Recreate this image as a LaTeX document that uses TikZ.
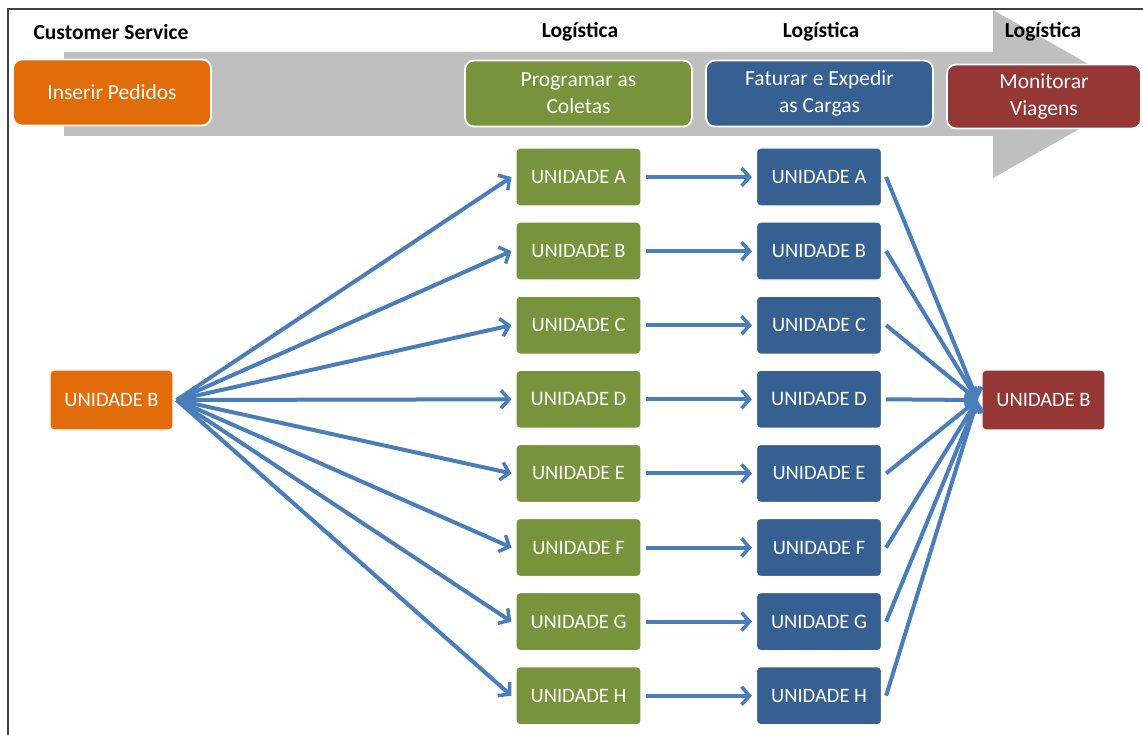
\documentclass[tikz,border=0pt]{standalone}
\usepackage{fontspec}
\setmainfont{Carlito}
\usetikzlibrary{arrows.meta}
\definecolor{csorange}{HTML}{E36C0A}
\definecolor{lgreen}{HTML}{77933C}
\definecolor{lblue}{HTML}{376092}
\definecolor{lred}{HTML}{953735}
\definecolor{flow}{HTML}{4A7EBB}
\definecolor{band}{HTML}{BFBFBF}
\definecolor{frame}{HTML}{404040}
\tikzset{
  stagebox/.style={draw=white, line width=1.8pt, rounded corners=9pt, text=white,
    font=\fontsize{21.5}{27}\selectfont, align=center, inner sep=0pt,
    minimum height=66pt},
  unitbox/.style={draw=white, line width=1.2pt, rounded corners=4pt, text=white,
    font=\fontsize{20.5}{24}\selectfont, inner sep=0pt,
    minimum width=125pt, minimum height=58pt},
  header/.style={font=\bfseries\fontsize{21.5}{25}\selectfont, text=black},
  flowarrow/.style={draw=flow, line width=4pt,
    -{Straight Barb[length=8pt,width=18pt,line width=3.5pt]}}
}
\begin{document}
\begin{tikzpicture}[x=1pt,y=-1pt]
\useasboundingbox (0,0) rectangle (1143,735);
\fill[white] (0,0) rectangle (1143,735);

% process band (big grey arrow)
\fill[band] (64,52) -- (993,52) -- (993,10) -- (1141,94) -- (993,178)
  -- (993,136) -- (64,136) -- cycle;

% frame lines
\draw[frame, line width=1.6pt] (8,735) -- (8,9) -- (1143,9);

% column headers
\node[header] (h1) at (111,32) {Customer Service};
\node[header] (h2) at (580,32) {Logística};
\node[header] (h3) at (821,32) {Logística};
\node[header] (h4) at (1043,32) {Logística};

% stage boxes
\node[stagebox, fill=csorange, minimum width=198pt] (s1) at (112,92.5) {Inserir Pedidos};
\node[stagebox, fill=lgreen, minimum width=227pt] (s2) at (578.5,93.5) {Programar as\\Coletas};
\node[stagebox, fill=lblue, minimum width=227pt] (s3) at (819.5,93.5) {Faturar e Expedir\\as Cargas};
\node[stagebox, fill=lred, minimum width=194pt, minimum height=64pt] (s4) at (1044,96.5) {Monitorar\\Viagens};

% origin and destination units
\node[unitbox, fill=csorange, minimum width=123pt, minimum height=60pt] (src) at (111.5,400) {UNIDADE B};
\node[unitbox, fill=lred, minimum width=123pt, minimum height=60pt] (dst) at (1043.5,400) {UNIDADE B};

% unit columns
\foreach \l [count=\i from 0] in {A,B,C,D,E,F,G,H} {
  \pgfmathsetmacro{\yy}{177+74.1*\i}
  \node[unitbox, fill=lgreen] (g\l) at (578.5,\yy) {UNIDADE \l};
  \node[unitbox, fill=lblue] (b\l) at (819,\yy) {UNIDADE \l};
}

% flows
\coordinate (srcout) at ([xshift=3pt]src.east);
\coordinate (dstin) at ([xshift=-4pt]dst.west);
\foreach \l in {A,B,C,D,E,F,G,H} {
  \draw[flowarrow] (srcout) -- ([xshift=-4pt]g\l.west);
  \draw[flowarrow] ([xshift=4pt]g\l.east) -- ([xshift=-4pt]b\l.west);
  \draw[flowarrow] ([xshift=4pt]b\l.east) -- (dstin);
}
\end{tikzpicture}
\end{document}
